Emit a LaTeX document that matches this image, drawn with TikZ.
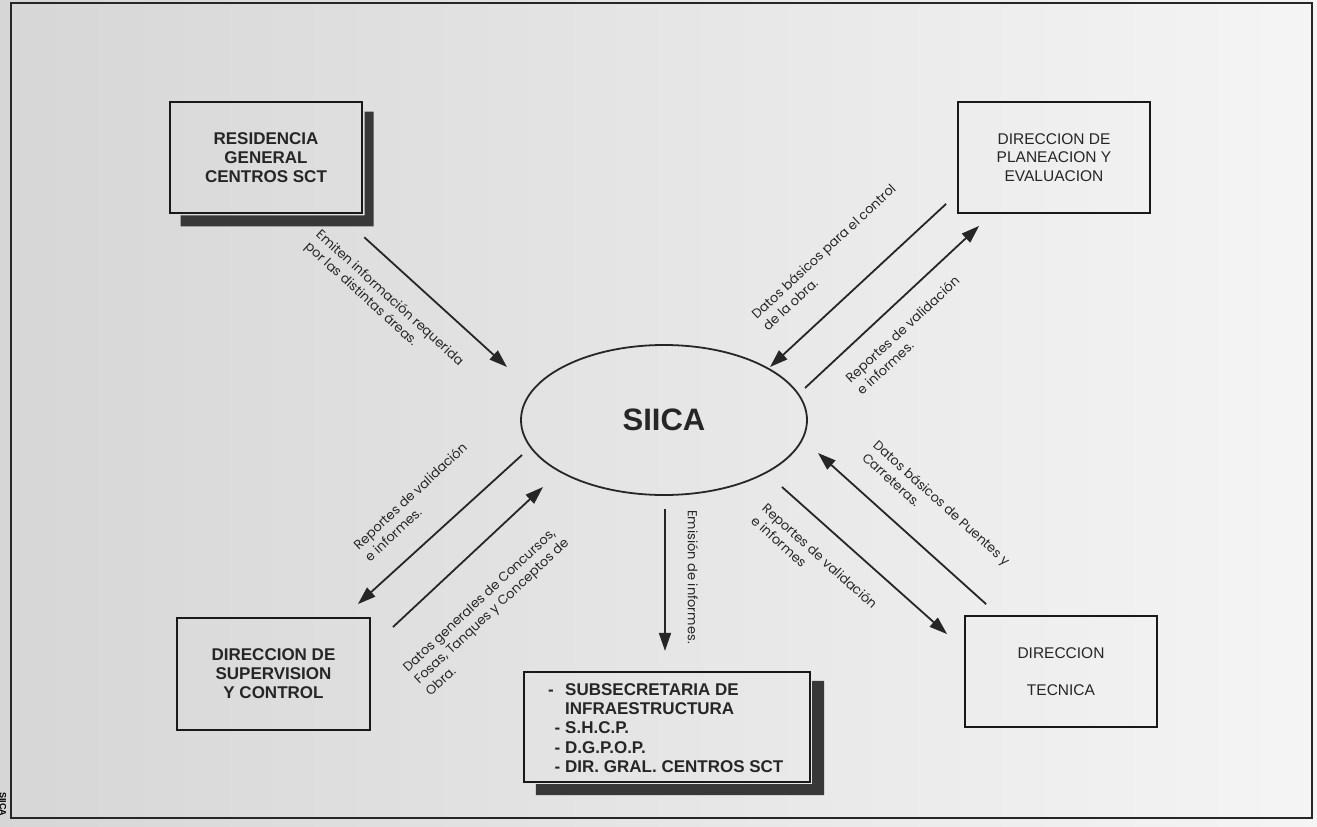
\documentclass[tikz,border=0pt]{standalone}
\usepackage{fontspec}
\setmainfont{Liberation Sans}
\newfontfamily\notefont{Poppins}
\usetikzlibrary{arrows.meta,shapes.geometric,calc}

\begin{document}
\begin{tikzpicture}[x=1pt,y=-1pt,
  flow/.style={-{Triangle[length=18pt,width=12pt]}, line width=1.8pt, draw=black!85},
  unit/.style={draw=black!90, line width=1.8pt, minimum width=192pt, minimum height=111pt,
               align=center, inner sep=0pt},
  boldtxt/.style={font=\fontsize{17}{19}\selectfont\bfseries, text=black!85},
  plaintxt/.style={font=\fontsize{15.5}{18.5}\selectfont, text=black!85},
  note/.style={font=\notefont\fontsize{13}{16.5}\selectfont, align=left, inner sep=0pt,
               anchor=west, text=black!85},
  shadowfill/.style={fill=black!78},
]
% paper background and frame
\useasboundingbox (0,0) rectangle (1317,827);
\shade[left color=black!16, right color=black!4] (0,0) rectangle (1317,827);
\draw[line width=1.6pt, black!85] (11,3) rectangle (1312,818);
\node[rotate=-90, anchor=west, inner sep=0pt, font=\fontsize{9}{9}\selectfont\bfseries] (tag) at (3,792) {SIICA};

% central system
\node[ellipse, draw=black!85, line width=1.8pt, minimum width=286pt, minimum height=150pt,
      inner sep=0pt, font=\fontsize{31}{31}\selectfont\bfseries, text=black!85] (siica) at (664,420) {SIICA};

% organisational units
\node[unit, boldtxt, line width=2.6pt] (res) at (266,157.5) {RESIDENCIA\\GENERAL\\CENTROS SCT};
\fill[shadowfill] ($(res.north east)+(1.3,11)$) -- ++(9,0) |- ($(res.south west)+(12,12)$)
   -- ++(0,-11) -| cycle;
\node[unit, plaintxt] (pla) at (1054,157.5) {DIRECCION DE\\PLANEACION Y\\EVALUACION};
\node[unit, boldtxt, minimum width=193pt, minimum height=112pt] (sup) at (273.5,674) {DIRECCION DE\\SUPERVISION\\Y CONTROL};
\node[unit, plaintxt] (tec) at (1061,671.5) {DIRECCION\\[18.5pt]TECNICA};

% recipients of reports
\node[draw=black!90, line width=2.2pt, minimum width=286pt, minimum height=110pt, inner sep=0pt] (sub) at (667,727) {};
\fill[shadowfill] ($(sub.north east)+(1.1,10)$) -- ++(12,0) |- ($(sub.south west)+(13,12)$)
   -- ++(0,-11) -| cycle;
\node[anchor=west, align=left, inner sep=0pt, boldtxt, font=\fontsize{17}{19.3}\selectfont\bfseries] (subtxt) at (548,728)
  {\makebox[17pt][l]{-}SUBSECRETARIA DE\\
   \hspace*{17pt}INFRAESTRUCTURA\\
   \makebox[17pt][r]{-\hspace{5pt}}S.H.C.P.\\
   \makebox[17pt][r]{-\hspace{5pt}}D.G.P.O.P.\\
   \makebox[17pt][r]{-\hspace{5pt}}DIR. GRAL. CENTROS SCT};

% connector end points
\coordinate (a1s) at ($(res.south east)+(1,23)$);
\coordinate (a1e) at ($(siica.center)+(-157,-53)$);
\coordinate (b1s) at ($(pla.south west)+(-11,-10)$);
\coordinate (b1e) at ($(siica.center)+(106,-53)$);
\coordinate (b2s) at ($(siica.center)+(141,-32)$);
\coordinate (b2e) at ($(pla.south west)+(22,12)$);
\coordinate (c1s) at ($(siica.center)+(-142,35)$);
\coordinate (c1e) at ($(sup.north east)+(-13,-13)$);
\coordinate (c2s) at ($(sup.north east)+(22,10)$);
\coordinate (c2e) at ($(siica.center)+(-121,67)$);
\coordinate (d1s) at ($(siica.center)+(118,67)$);
\coordinate (d1e) at ($(tec.north west)+(-17,19)$);
\coordinate (d2s) at ($(tec.north west)+(22,-11)$);
\coordinate (d2e) at ($(siica.center)+(154,33)$);
\coordinate (e1s) at ($(siica.south)+(1,13)$);
\coordinate (e1e) at ($(siica.south)+(1,155)$);

% information flows
\draw[flow] (a1s) -- (a1e);
\draw[flow] (b1s) -- (b1e);
\draw[flow] (b2s) -- (b2e);
\draw[flow] (c1s) -- (c1e);
\draw[flow] (c2s) -- (c2e);
\draw[flow] (d1s) -- (d1e);
\draw[flow] (d2s) -- (d2e);
\draw[flow] (e1s) -- (e1e);

% flow labels
\node[note, rotate=-42.3] (lbla) at (312,239) {Emiten información requerida\\por las distintas áreas.};
\node[note, rotate=42.8] (lblb) at (759,322) {Datos básicos para el control\\de la obra.};
\node[note, rotate=42.8] (lblc) at (853,386) {Reportes de validación\\e informes.};
\node[note, rotate=43] (lbld) at (361,553) {Reportes de validación\\e informes.};
\node[note, rotate=43] (lble) at (416,681) {Datos generales de Concursos,\\Fosas, Tanques y Conceptos de\\Obra.};
\node[note, rotate=-42] (lblf) at (759,512) {Reportes de validación\\e informes};
\node[note, rotate=-42] (lblg) at (870,449) {Datos básicos de Puentes y\\Carreteras.};
\node[note, rotate=-90] (lblh) at (693,510) {Emisión de informes.};
\end{tikzpicture}
\end{document}
